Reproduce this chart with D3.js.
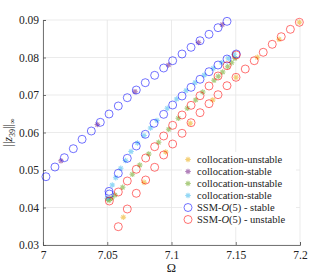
<!DOCTYPE html>
<html>
<head>
<meta charset="utf-8">
<script src="https://cdn.jsdelivr.net/npm/d3@7"></script>
<style>
  body { margin: 0; background: #fff; }
  svg text { font-family: "Liberation Serif", "Times New Roman", serif !important; }
</style>
</head>
<body>
<div id="chart"></div>
<script>
// Omega and ||z39||_inf values
const xTicks = [7, 7.05, 7.1, 7.15, 7.2];
const xTickLabels = ["7", "7.05", "7.1", "7.15", "7.2"];
const yTicks = [0.03, 0.04, 0.05, 0.06, 0.07, 0.08, 0.09];
const yTickLabels = ["0.03", "0.04", "0.05", "0.06", "0.07", "0.08", "0.09"];

// collocation-unstable (yellow), right branch
const colUnstableAOmega = [7.0625, 7.0786, 7.0955, 7.1146, 7.1321, 7.1502, 7.1668, 7.1837, 7.1995];
const colUnstableAAmp = [0.0374, 0.0467, 0.0548, 0.06245, 0.06867, 0.07472, 0.08005, 0.08485, 0.08939];

// collocation-stable (purple), upper branch
const colStableAOmega = [7.014, 7.0423, 7.0716, 7.0977, 7.1210, 7.1395];
const colStableAAmp = [0.05245, 0.06213, 0.07088, 0.078, 0.084, 0.08875];

// collocation-unstable (green), middle branch
const colUnstableBOmega = [7.0505, 7.0515, 7.0535, 7.056, 7.062, 7.0695, 7.0753, 7.0823, 7.09, 7.0978,
  7.1053, 7.1123, 7.1188, 7.1243, 7.1331, 7.1364, 7.1398, 7.1437, 7.1468, 7.1494];
const colUnstableBAmp = [0.0422, 0.0419, 0.0425, 0.04333, 0.04539, 0.04885, 0.05133, 0.05427, 0.05739, 0.06085,
  0.06379, 0.06645, 0.06867, 0.0708, 0.07392, 0.07499, 0.07613, 0.07755, 0.07861, 0.07979];

// collocation-stable (light blue), middle branch
const colStableBOmega = [7.05, 7.0539, 7.0566, 7.0605, 7.0642, 7.0685, 7.0735, 7.0786, 7.0837, 7.0887,
  7.0967, 7.104, 7.1113, 7.1183, 7.1255, 7.1325, 7.1391, 7.1442, 7.1486];
const colStableBAmp = [0.04245, 0.046, 0.04795, 0.05045, 0.05253, 0.05493, 0.0572, 0.0592, 0.0612, 0.0632,
  0.06645, 0.06893, 0.07115, 0.07328, 0.07533, 0.07712, 0.07861, 0.07979, 0.08085];

// SSM-O(5) stable (blue circles)
const ssmStableOmega = [7.0023, 7.0093, 7.0166, 7.0236, 7.0304, 7.0376, 7.0446, 7.0514, 7.0586, 7.0656,
  7.0726, 7.0796, 7.0869, 7.0939, 7.1009, 7.1082, 7.1152, 7.1222, 7.1292, 7.1362, 7.1432,
  7.0514, 7.0516, 7.0586, 7.0656, 7.0726, 7.0796, 7.0864, 7.0939, 7.1009, 7.1082, 7.1152,
  7.1222, 7.1292, 7.1362, 7.1432, 7.1504];
const ssmStableAmp = [0.04821, 0.0508, 0.05328, 0.05568, 0.05819, 0.0604, 0.06272, 0.06493, 0.06707, 0.06928,
  0.07133, 0.07328, 0.07525, 0.0772, 0.07915, 0.08093, 0.08272, 0.08448, 0.08619, 0.08795, 0.08965,
  0.0443, 0.0436, 0.04912, 0.05312, 0.0564, 0.05952, 0.06245, 0.06485, 0.06733, 0.06973, 0.07205,
  0.07419, 0.07621, 0.078, 0.0796, 0.08093];

// SSM-O(5) unstable (red circles)
const ssmUnstableOmega = [7.0516, 7.0586, 7.0656, 7.0726, 7.0799, 7.0869, 7.0939, 7.1009, 7.1082, 7.1152,
  7.1222, 7.1292, 7.1362, 7.1432, 7.1504,
  7.0586, 7.0656, 7.0726, 7.0799, 7.0869, 7.0939, 7.1009, 7.1082, 7.1152, 7.1222, 7.1292,
  7.1362, 7.1432, 7.1502, 7.1574, 7.1644, 7.1714, 7.1784, 7.1854, 7.1925, 7.1995];
const ssmUnstableAmp = [0.04173, 0.04413, 0.04707, 0.05019, 0.0532, 0.05621, 0.05907, 0.06192, 0.06467, 0.06725,
  0.06981, 0.0724, 0.07507, 0.07781, 0.08067,
  0.03488, 0.0396, 0.04379, 0.04733, 0.05072, 0.054, 0.05693, 0.05979, 0.06261, 0.06528, 0.06768,
  0.07008, 0.07248, 0.07472, 0.07693, 0.07915, 0.08139, 0.08352, 0.08555, 0.08752, 0.08939];

const width = 332;
const height = 277;
const margin = {top: 20, right: 32, bottom: 32, left: 43};
const fontFamily = "'Liberation Serif', 'Times New Roman', serif";

const svg = d3.select("#chart")
    .append("svg")
    .attr("width", width)
    .attr("height", height)
    .style("font-family", fontFamily);

const x = d3.scaleLinear()
    .domain([7, 7.2])
    .range([margin.left, width - margin.right]);

const y = d3.scaleLinear()
    .domain([0.03, 0.09])
    .range([height - margin.bottom, margin.top]);

// Grid
const grid = svg.append("g")
    .attr("stroke", "#e6e6e6")
    .attr("stroke-width", 0.8);

grid.selectAll("line.gx")
    .data(xTicks)
    .join("line")
    .attr("x1", d => x(d))
    .attr("x2", d => x(d))
    .attr("y1", y(0.03))
    .attr("y2", y(0.09));

grid.selectAll("line.gy")
    .data(yTicks)
    .join("line")
    .attr("x1", x(7))
    .attr("x2", x(7.2))
    .attr("y1", d => y(d))
    .attr("y2", d => y(d));

// Axes
const xAxis = d3.axisBottom(x)
    .tickValues(xTicks)
    .tickFormat((d, i) => xTickLabels[i])
    .tickSize(-3)
    .tickPadding(6);

const yAxis = d3.axisLeft(y)
    .tickValues(yTicks)
    .tickFormat((d, i) => yTickLabels[i])
    .tickSize(-3)
    .tickPadding(4);

const gx = svg.append("g")
    .attr("transform", `translate(0,${y(0.03)})`)
    .call(xAxis);

const gy = svg.append("g")
    .attr("transform", `translate(${x(7)},0)`)
    .call(yAxis);

[gx, gy].forEach(g => {
    g.attr("font-family", null);
    g.select(".domain").attr("stroke", "#555").attr("stroke-width", 0.8);
    g.selectAll(".tick line").attr("stroke", "#555").attr("stroke-width", 0.8);
    g.selectAll(".tick text")
        .attr("fill", "#222")
        .attr("font-size", 11.5)
        .style("font-family", fontFamily);
});

// Axis labels
svg.append("text")
    .attr("x", x(7.1))
    .attr("y", 272)
    .attr("text-anchor", "middle")
    .attr("font-size", 12.5)
    .attr("fill", "#222")
    .text("Ω");

const yLabel = svg.append("text")
    .attr("transform", `translate(12,${(y(0.03) + y(0.09)) / 2}) rotate(-90)`)
    .attr("text-anchor", "middle")
    .attr("font-size", 12)
    .attr("fill", "#222");
yLabel.append("tspan").text("||");
yLabel.append("tspan").attr("font-style", "italic").text("z");
yLabel.append("tspan").attr("font-size", 8).attr("dy", 3).text("39");
yLabel.append("tspan").attr("dy", -3).text("||");
yLabel.append("tspan").attr("font-size", 8).attr("dy", 3).text("∞");

// Markers
function starPath(r)
{
    const d = r * Math.SQRT1_2;
    return `M${-r},0L${r},0M0,${-r}L0,${r}M${-d},${-d}L${d},${d}M${-d},${d}L${d},${-d}`;
}

const series = [
    {label: "collocation-unstable", omega: colUnstableAOmega, amp: colUnstableAAmp, color: "#EDB120", type: "star"},
    {label: "collocation-stable", omega: colStableAOmega, amp: colStableAAmp, color: "#7E2F8E", type: "star"},
    {label: "collocation-unstable", omega: colUnstableBOmega, amp: colUnstableBAmp, color: "#77AC30", type: "star"},
    {label: "collocation-stable", omega: colStableBOmega, amp: colStableBAmp, color: "#4DBEEE", type: "star"},
    {label: " - stable", omega: ssmStableOmega, amp: ssmStableAmp, color: "#0000ff", type: "circle"},
    {label: " - unstable", omega: ssmUnstableOmega, amp: ssmUnstableAmp, color: "#ff0000", type: "circle"},
];

function drawMarker(g, type, color)
{
    if (type === "circle") {
        g.append("circle")
            .attr("r", 4)
            .attr("fill", "none")
            .attr("stroke", color)
            .attr("stroke-opacity", 0.55)
            .attr("stroke-width", 1);
    } else {
        g.append("path")
            .attr("d", starPath(2.8))
            .attr("fill", "none")
            .attr("stroke", color)
            .attr("stroke-opacity", 0.6)
            .attr("stroke-width", 1.1);
    }
}

series.forEach(s => {
    const g = svg.append("g");
    s.omega.forEach((o, i) => {
        const m = g.append("g").attr("transform", `translate(${x(o)},${y(s.amp[i])})`);
        drawMarker(m, s.type, s.color);
    });
});

// Legend
const legend = svg.append("g");
legend.append("rect")
    .attr("x", 182)
    .attr("y", 152)
    .attr("width", 114)
    .attr("height", 75)
    .attr("fill", "#fff");

series.forEach((s, i) => {
    const row = legend.append("g").attr("transform", `translate(188,${159.5 + i * 12})`);
    drawMarker(row, s.type, s.color);
    const t = row.append("text")
        .attr("x", 9)
        .attr("y", 3.5)
        .attr("font-size", 10.5)
        .attr("fill", "#222");
    if (s.type === "circle") {
        t.append("tspan").text("SSM-");
        t.append("tspan").attr("font-style", "italic").text("O");
        t.append("tspan").text("(5)" + s.label);
    } else {
        t.text(s.label);
    }
});
</script>
</body>
</html>
